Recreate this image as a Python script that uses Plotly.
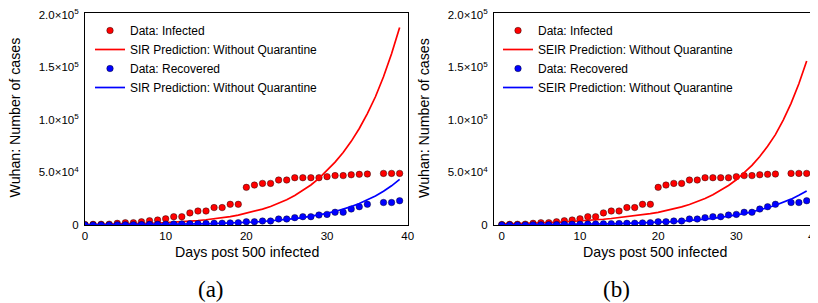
import plotly.graph_objects as go

# ---- data ----
data_days = list(range(0, 36)) + [37, 38, 39]
infected = [500, 600, 700, 800, 1600, 2200, 2200, 3100, 4100, 4750,
            5900, 7900, 7900, 11500, 13300, 13300, 16600, 16600, 19700, 19700,
            35800, 38000, 39600, 39600, 42800, 42800, 45000, 45000, 45000, 45000,
            46000, 47000, 47000, 47800, 48200, 48500,
            49100, 49100, 49100]
recovered = [50, 60, 80, 100, 150, 200, 300, 400, 600, 700,
             800, 900, 1000, 1100, 1300, 1400, 1600, 1700, 2000, 2200,
             3100, 3100, 3800, 3800, 5700, 5700, 7000, 7900, 7900, 9500,
             10100, 12100, 12100, 15200, 17400, 19700,
             21400, 21400, 23100]

model_days = list(range(0, 40))
sir_infected = [450, 530, 620, 730, 860, 1000, 1180, 1390, 1630, 1910,
                2240, 2630, 3090, 3620, 4250, 4990, 5850, 6860, 8050, 9450,
                11100, 12950, 15100, 17600, 20600, 24000, 28000, 32700, 38100, 44400,
                51800, 59800, 69000, 79600, 91800, 106000, 122000, 141000, 163000, 188000]
sir_recovered = [120, 140, 160, 190, 220, 250, 300, 340, 400, 470,
                 540, 630, 730, 850, 990, 1150, 1340, 1560, 1810, 2110,
                 2450, 2850, 3320, 3860, 4490, 5220, 6070, 7060, 8220, 9560,
                 11100, 12900, 15100, 17500, 20400, 23700, 27600, 32100, 37300, 43400]
seir_infected = [1000, 1150, 1320, 1520, 1740, 2000, 2270, 2590, 2940, 3340,
                 3800, 4290, 4850, 5480, 6200, 7000, 7800, 8690, 9680, 10780,
                 12000, 13550, 15300, 17270, 19500, 22000, 25200, 28800, 32900, 37600,
                 43000, 49400, 56700, 65200, 74900, 86000, 99800, 115800, 134400, 156000]
seir_recovered = [170, 190, 220, 250, 290, 330, 370, 430, 490, 560,
                  640, 730, 840, 960, 1100, 1250, 1440, 1650, 1880, 2160,
                  2470, 2820, 3230, 3700, 4240, 4850, 5560, 6360, 7280, 8340,
                  9550, 10900, 12500, 14300, 16400, 18800, 21500, 24600, 28200, 32300]

x_ticks = [0, 10, 20, 30, 40]
y_ticks = [0, 50000, 100000, 150000, 200000]
y_tick_text = ["0", "5.0×10<sup>4</sup>", "1.0×10<sup>5</sup>",
               "1.5×10<sup>5</sup>", "2.0×10<sup>5</sup>"]

RED = "#ff0000"
BLUE = "#0000ff"
FONT = "Liberation Sans, Arial, sans-serif"

fig = go.Figure()

def add_panel(xa, ya, leg, model_name, m_inf, m_rec):
    edge = dict(color="rgba(0,0,0,0.6)", width=0.7)
    fig.add_trace(go.Scatter(x=data_days, y=infected, mode="markers", name="Data: Infected",
                             marker=dict(color=RED, size=6.5, line=edge),
                             xaxis=xa, yaxis=ya, legend=leg))
    fig.add_trace(go.Scatter(x=model_days, y=m_inf, mode="lines",
                             name=model_name + " Prediction: Without Quarantine",
                             line=dict(color=RED, width=1.7), xaxis=xa, yaxis=ya, legend=leg))
    fig.add_trace(go.Scatter(x=data_days, y=recovered, mode="markers", name="Data: Recovered",
                             marker=dict(color=BLUE, size=6.5, line=edge),
                             xaxis=xa, yaxis=ya, legend=leg))
    fig.add_trace(go.Scatter(x=model_days, y=m_rec, mode="lines",
                             name=model_name + " Prediction: Without Quarantine",
                             line=dict(color=BLUE, width=1.7), xaxis=xa, yaxis=ya, legend=leg))

add_panel("x", "y", "legend", "SIR", sir_infected, sir_recovered)
add_panel("x2", "y2", "legend2", "SEIR", seir_infected, seir_recovered)

# page is shown with the browser's default 8px body margin -> compensate
OFF = 8
PAGE_W, PAGE_H = 818, 303
W, H = PAGE_W - OFF, PAGE_H - OFF

def px(x):
    return (x - OFF) / W

def py(y):
    return (PAGE_H - y) / H

ydom = [py(225), py(12.7)]

axis_common = dict(showline=True, linecolor="black", linewidth=1, mirror=True,
                   showgrid=False, zeroline=False, ticks="", automargin=False,
                   ticklabeloverflow="allow",
                   tickfont=dict(family=FONT, size=11.5, color="black"))

legend_common = dict(bgcolor="rgba(0,0,0,0)", borderwidth=0, xanchor="left", yanchor="top",
                     font=dict(family=FONT, size=12, color="black"), tracegroupgap=0)

title_font = dict(family=FONT, size=14.2, color="black")
label_font = dict(family="Liberation Serif, serif", size=23, color="black")

def ann(text, x, y, font, angle=0):
    return dict(text=text, x=px(x), y=py(y), xref="paper", yref="paper",
                xanchor="center", yanchor="middle", showarrow=False, font=font, textangle=angle)

fig.update_layout(
    width=W, height=H,
    margin=dict(l=0, r=0, t=0, b=0, autoexpand=False),
    paper_bgcolor="white", plot_bgcolor="white",
    font=dict(family=FONT, size=12, color="black"),
    xaxis=dict(domain=[px(85), px(407.7)], range=[0, 40], tickvals=x_ticks, anchor="y", **axis_common),
    yaxis=dict(domain=ydom, range=[0, 202000], tickvals=y_ticks, ticktext=y_tick_text, anchor="x",
               ticklabelstandoff=3, **axis_common),
    xaxis2=dict(domain=[px(494), px(814.5)], range=[-1, 40], tickvals=x_ticks, anchor="y2", **axis_common),
    yaxis2=dict(domain=ydom, range=[0, 202000], tickvals=y_ticks, ticktext=y_tick_text, anchor="x2",
                ticklabelstandoff=3, **axis_common),
    legend=dict(x=px(90), y=py(16), **legend_common),
    legend2=dict(x=px(498), y=py(16), **legend_common),
    annotations=[
        ann("Days post 500 infected", 247, 252, title_font),
        ann("Days post 500 infected", 655, 252, title_font),
        ann("Wuhan: Number of cases", 14.5, 118, title_font, -90),
        ann("Wuhan: Number of cases", 424, 118, title_font, -90),
        ann("(a)", 211, 289.5, label_font),
        ann("(b)", 616.5, 289.5, label_font),
    ],
)

fig.write_html("out.html")
